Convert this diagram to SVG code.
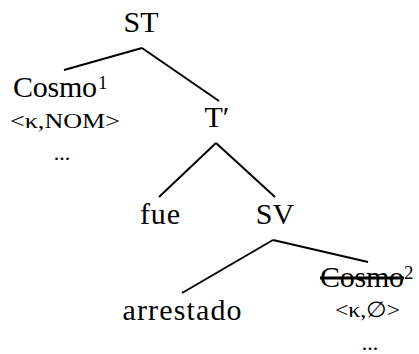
<svg xmlns="http://www.w3.org/2000/svg" width="419" height="354" viewBox="0 0 419 354">
<style>
text{font-family:"Liberation Serif","Times New Roman",serif;fill:#000}
.n{font-size:30px;text-anchor:middle}
.sup{font-size:19px}
.f{font-size:22px}
line{stroke:#000;stroke-width:2;stroke-linecap:butt}
</style>
<rect width="419" height="354" fill="#fff"/>
<g id="connectors">
<line x1="142" y1="48" x2="64" y2="70"/>
<line x1="142" y1="48" x2="219" y2="101"/>
<line x1="216" y1="143" x2="159" y2="197"/>
<line x1="216" y1="143" x2="275" y2="197"/>
<line x1="273" y1="240" x2="182" y2="293"/>
<line x1="273" y1="240" x2="368" y2="262"/>
</g>
<g id="ST"><text class="n" x="141" y="32">ST</text></g>
<g id="Cosmo1">
<text x="13" y="97" font-size="30" textLength="84" lengthAdjust="spacing">Cosmo</text>
<text class="sup" x="98" y="89">1</text>
<text class="f" x="10" y="128" textLength="110" lengthAdjust="spacingAndGlyphs">&lt;κ,NOM&gt;</text>
<text class="f" x="62" y="160" text-anchor="middle">...</text>
</g>
<g id="Tbar"><text class="n" x="217" y="127">T′</text></g>
<g id="fue"><text class="n" x="160" y="224" textLength="40" lengthAdjust="spacing">fue</text></g>
<g id="SV"><text class="n" x="275" y="224">SV</text></g>
<g id="arrestado"><text class="n" x="182" y="320" textLength="119" lengthAdjust="spacing">arrestado</text></g>
<g id="Cosmo2">
<text x="320" y="287" font-size="30" textLength="84" lengthAdjust="spacing" text-decoration="line-through">Cosmo</text>
<text class="sup" x="404" y="279">2</text>
<text class="f" x="335" y="317" textLength="65" lengthAdjust="spacingAndGlyphs">&lt;κ,∅&gt;</text>
<text class="f" x="370" y="350" text-anchor="middle">...</text>
</g>
</svg>
